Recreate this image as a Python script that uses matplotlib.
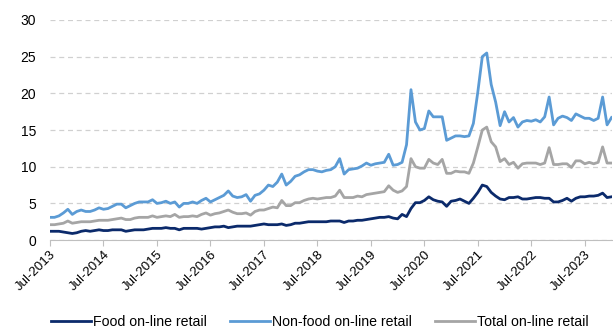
import matplotlib.pyplot as plt
import numpy as np

plt.rcParams['font.family'] = ['Liberation Sans', 'DejaVu Sans']

# monthly shares, Jul-2013 .. Jan-2024 (one row per Jul-Jun year)
food = [
    1.2, 1.2, 1.2, 1.1, 1.0, 0.9, 1.0, 1.2, 1.3, 1.2, 1.3, 1.4,
    1.3, 1.3, 1.4, 1.4, 1.4, 1.2, 1.3, 1.4, 1.4, 1.4, 1.5, 1.6,
    1.6, 1.6, 1.7, 1.6, 1.6, 1.4, 1.6, 1.6, 1.6, 1.6, 1.5, 1.6,
    1.7, 1.8, 1.8, 1.9, 1.7, 1.8, 1.9, 1.9, 1.9, 1.9, 2.0, 2.1,
    2.2, 2.1, 2.1, 2.1, 2.2, 2.0, 2.1, 2.3, 2.3, 2.4, 2.5, 2.5,
    2.5, 2.5, 2.5, 2.6, 2.6, 2.6, 2.4, 2.6, 2.6, 2.7, 2.7, 2.8,
    2.9, 3.0, 3.1, 3.1, 3.2, 3.0, 2.9, 3.5, 3.2, 4.3, 5.1, 5.1,
    5.4, 5.9, 5.5, 5.3, 5.2, 4.6, 5.3, 5.4, 5.6, 5.3, 5.0, 5.7,
    6.5, 7.5, 7.3, 6.5, 6.0, 5.6, 5.5, 5.8, 5.8, 5.9, 5.6, 5.6,
    5.7, 5.8, 5.8, 5.7, 5.7, 5.2, 5.2, 5.4, 5.7, 5.3, 5.7, 5.9,
    5.9, 6.0, 6.0, 6.1, 6.4, 5.8, 5.9,
]
non_food = [
    3.1, 3.1, 3.3, 3.7, 4.2, 3.5, 3.9, 4.1, 3.9, 3.9, 4.1, 4.4,
    4.2, 4.3, 4.6, 4.9, 4.9, 4.4, 4.7, 5.0, 5.2, 5.2, 5.2, 5.5,
    5.0, 5.1, 5.3, 5.0, 5.2, 4.5, 5.0, 5.0, 5.2, 5.0, 5.4, 5.7,
    5.2, 5.5, 5.8, 6.1, 6.7, 6.0, 5.8, 5.9, 6.2, 5.3, 6.1, 6.3,
    6.8, 7.5, 7.3, 7.9, 9.0, 7.5, 8.0, 8.7, 8.9, 9.3, 9.6, 9.6,
    9.4, 9.3, 9.5, 9.6, 10.0, 11.1, 9.0, 9.6, 9.7, 9.8, 10.1, 10.5,
    10.2, 10.4, 10.5, 10.6, 11.7, 10.2, 10.3, 10.6, 13.0, 20.5, 16.1, 15.0,
    15.2, 17.6, 16.8, 16.8, 16.8, 13.6, 13.9, 14.2, 14.2, 14.1, 14.2, 15.9,
    20.2, 25.0, 25.5, 21.2, 18.8, 15.6, 17.5, 16.1, 16.7, 15.4, 16.1, 16.3,
    16.2, 16.4, 16.1, 16.8, 19.5, 15.7, 16.6, 16.9, 16.7, 16.3, 17.2, 16.9,
    16.6, 16.6, 16.3, 16.6, 19.5, 15.7, 16.7,
]
total = [
    2.1, 2.1, 2.2, 2.3, 2.6, 2.3, 2.4, 2.5, 2.5, 2.5, 2.6, 2.7,
    2.7, 2.7, 2.8, 2.9, 3.0, 2.8, 2.8, 3.0, 3.1, 3.1, 3.1, 3.3,
    3.1, 3.2, 3.3, 3.2, 3.5, 3.1, 3.2, 3.2, 3.3, 3.2, 3.5, 3.7,
    3.4, 3.6, 3.7, 3.9, 4.1, 3.8, 3.6, 3.6, 3.7, 3.4, 3.9, 4.1,
    4.1, 4.3, 4.5, 4.4, 5.4, 4.7, 4.7, 5.1, 5.1, 5.4, 5.6, 5.7,
    5.6, 5.7, 5.8, 5.8, 6.0, 6.8, 5.8, 5.8, 5.8, 6.0, 5.9, 6.2,
    6.3, 6.4, 6.5, 6.6, 7.4, 6.8, 6.5, 6.7, 7.3, 11.1, 10.0, 9.8,
    9.8, 11.0, 10.5, 10.3, 11.0, 9.1, 9.1, 9.4, 9.3, 9.3, 9.1, 10.5,
    12.7, 15.0, 15.4, 13.4, 12.7, 10.7, 11.1, 10.3, 10.6, 9.8, 10.4, 10.5,
    10.5, 10.5, 10.3, 10.5, 12.6, 10.3, 10.3, 10.4, 10.4, 9.9, 10.8, 10.8,
    10.4, 10.6, 10.4, 10.6, 12.7, 10.5, 10.5,
]
tick_labels = ['Jul-%d' % y for y in range(2013, 2024)]

x = np.arange(len(food))

fig = plt.figure(figsize=(6.13, 3.33), dpi=100)
ax = fig.add_axes([0.0816, 0.279, 0.916, 0.661])

ax.plot(x, food, color='#0B2A6B', lw=2.0, label='Food on-line retail')
ax.plot(x, non_food, color='#5B9BD5', lw=2.0, label='Non-food on-line retail')
ax.plot(x, total, color='#A5A5A5', lw=2.0, label='Total on-line retail')

ax.set_ylim(0, 30)
ax.set_yticks(range(0, 31, 5))
ax.set_xlim(0, len(food) - 1)
ax.set_xticks(np.arange(0, len(food), 12))
ax.set_xticklabels(tick_labels, rotation=45, ha='right', rotation_mode='anchor')

ax.yaxis.grid(True, color='#D0D0D0', ls=(0, (4, 3)), lw=0.9)
ax.set_axisbelow(True)
for s in ['left', 'right', 'top']:
    ax.spines[s].set_visible(False)
ax.spines['bottom'].set_color('#BFBFBF')
ax.tick_params(axis='y', length=0, labelsize=10, pad=10)
ax.tick_params(axis='x', length=4, color='#BFBFBF', labelsize=9.5, pad=2)

fig.legend(loc='lower center', ncol=3, frameon=False, fontsize=10.2,
           bbox_to_anchor=(0.522, -0.025), handlelength=2.8, handletextpad=0.2,
           columnspacing=1.6)

fig.savefig('out.png', dpi=100)
